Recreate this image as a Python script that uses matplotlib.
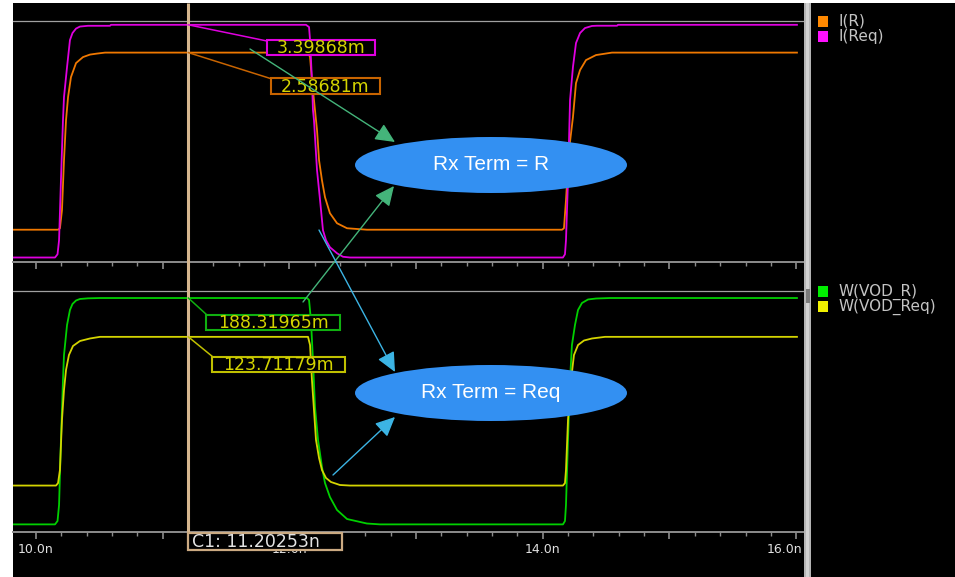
import matplotlib
matplotlib.use('Agg')
import matplotlib.pyplot as plt
from matplotlib.patches import Rectangle, Ellipse, FancyArrowPatch
from matplotlib.ticker import MultipleLocator, FixedLocator
from matplotlib.transforms import ScaledTranslation

plt.rcParams['font.family'] = ['DejaVu Sans']

# ---------------- data (time in ns, current in mA, voltage in mV) ----------------
CURSOR_T = 11.20253

t_IR = [9.818, 10.174, 10.189, 10.205, 10.221, 10.237, 10.253, 10.276, 10.316, 10.371, 10.426, 10.481, 10.545, 12.147,
        12.163, 12.178, 12.194, 12.218, 12.234, 12.257, 12.281, 12.320, 12.376, 12.455, 12.612,
        14.152, 14.167, 14.183, 14.207, 14.238, 14.262, 14.294, 14.341, 14.420, 14.546, 16.006]
v_IR = [-2.58681, -2.58681, -2.544, -2.018, -0.556, 0.614, 1.287, 1.871, 2.281, 2.456, 2.529, 2.558, 2.58681, 2.58681,
        2.456, 1.784, 1.199, 0.322, -0.556, -1.140, -1.637, -2.105, -2.398, -2.544, -2.58681,
        -2.58681, -2.544, -1.725, -0.263, 0.702, 1.696, 2.076, 2.368, 2.515, 2.58681, 2.58681]

t_IReq = [9.818, 10.150, 10.170, 10.182, 10.197, 10.213, 10.221, 10.245, 10.268, 10.288, 10.316, 10.347, 10.410, 10.584, 10.592, 12.131,
          12.155, 12.163, 12.178, 12.186, 12.194, 12.218, 12.242, 12.265, 12.289, 12.320, 12.376, 12.423, 12.478,
          14.159, 14.175, 14.183, 14.199, 14.215, 14.238, 14.262, 14.294, 14.333, 14.388, 14.428, 14.586, 14.594, 16.006]
v_IReq = [-3.39868, -3.39868, -3.304, -2.895, -1.140, 0.614, 1.287, 2.164, 2.953, 3.158, 3.289, 3.348, 3.370, 3.370, 3.39868, 3.39868,
          3.333, 2.953, 1.784, 0.906, 0.614, -0.848, -1.725, -2.602, -2.895, -3.099, -3.275, -3.377, -3.39868,
          -3.39868, -3.304, -2.895, -1.140, 1.199, 2.164, 2.865, 3.158, 3.304, 3.365, 3.372, 3.372, 3.39868, 3.39868]

t_VR = [9.818, 10.150, 10.170, 10.182, 10.197, 10.213, 10.221, 10.245, 10.268, 10.288, 10.316, 10.347, 10.410, 10.505, 12.139,
        12.155, 12.170, 12.186, 12.202, 12.226, 12.257, 12.281, 12.320, 12.376, 12.455, 12.612, 12.715,
        14.159, 14.175, 14.183, 14.199, 14.215, 14.230, 14.254, 14.278, 14.309, 14.357, 14.420, 14.530, 16.006]
v_VR = [-188.31965, -188.31965, -182.7, -156.1, -47.9, 51.9, 93.5, 143.4, 168.4, 178.4, 184.2, 186.7, 187.8, 188.31965, 188.31965,
        185.0, 151.7, 85.2, 7.0, -47.9, -92.8, -119.5, -142.8, -164.4, -179.4, -186.9, -188.31965,
        -188.31965, -182.7, -156.1, -47.9, 51.9, 110.1, 143.4, 168.4, 180.0, 185.9, 187.5, 188.31965, 188.31965]

t_VReq = [9.818, 10.158, 10.174, 10.189, 10.205, 10.221, 10.237, 10.260, 10.292, 10.347, 10.426, 10.505, 12.147,
          12.163, 12.178, 12.194, 12.210, 12.234, 12.257, 12.289, 12.328, 12.399, 12.478,
          14.159, 14.175, 14.183, 14.199, 14.223, 14.246, 14.278, 14.325, 14.388, 14.491, 16.006]
v_VReq = [-123.71179, -123.71179, -119.6, -97.8, -14.6, 35.3, 68.6, 93.5, 108.5, 116.8, 121.0, 123.71179, 123.71179,
          110.1, 52.0, 2.0, -47.9, -77.9, -97.8, -111.1, -117.8, -122.8, -123.71179,
          -123.71179, -119.6, -97.8, -14.6, 52.0, 93.5, 110.1, 117.6, 121.0, 123.71179, 123.71179]

marker_IR = 2.58681
marker_IReq = 3.39868
marker_VR = 188.31965
marker_VReq = 123.71179

x_major = [10, 11, 12, 13, 14, 15, 16]
x_labels = ['10.0n', '', '12.0n', '', '14.0n', '', '16.0n']
legend_top = ['I(R)', 'I(Req)']
legend_bot = ['W(VOD_R)', 'W(VOD_Req)']

# ---------------- styling ----------------
W, H = 955, 577
C_OR, C_MG, C_GR, C_YL = '#f07800', '#e000e0', '#00d000', '#d4d400'
GRAY = '#8c8c8c'

fig = plt.figure(figsize=(W / 100, H / 100), dpi=100, facecolor='white')
fig.add_artist(Rectangle((13 / W, 0), 1, (H - 3) / H, transform=fig.transFigure,
                         facecolor='black', edgecolor='none', zorder=-10))


def px_axes(x0, y0, x1, y1):
    return fig.add_axes([x0 / W, (H - y1) / H, (x1 - x0) / W, (y1 - y0) / H])


ax1 = px_axes(13, 21, 804, 262)
ax2 = px_axes(13, 291, 804, 532)
for ax in (ax1, ax2):
    ax.set_facecolor('black')
    ax.set_xlim(9.8185, 16.0616)
    for s in ('left', 'right'):
        ax.spines[s].set_visible(False)
    ax.spines['top'].set_color('#a0a0a0')
    ax.spines['top'].set_linewidth(0.9)
    ax.spines['bottom'].set_color(GRAY)
    ax.spines['bottom'].set_linewidth(1.4)
    ax.set_yticks([])
    ax.xaxis.set_major_locator(FixedLocator(x_major))
    ax.xaxis.set_minor_locator(MultipleLocator(0.2))
    ax.tick_params(axis='x', which='major', length=5, width=1.2, color=GRAY,
                   labelsize=9, labelcolor='#e0e0e0', pad=3)
    ax.tick_params(axis='x', which='minor', length=3, width=1.0, color=GRAY)

ax1.set_ylim(-3.53, 3.51)
ax2.set_ylim(-201.0, 200.0)
ax1.set_xticklabels([''] * len(x_major))
ax2.set_xticklabels(x_labels)
lbls = ax2.get_xticklabels()
lbls[-1].set_horizontalalignment('right')
lbls[-1].set_transform(lbls[-1].get_transform() + ScaledTranslation(6 / 100, 0, fig.dpi_scale_trans))

ax1.plot(t_IR, v_IR, color=C_OR, lw=1.3)
ax1.plot(t_IReq, v_IReq, color=C_MG, lw=1.3)
ax2.plot(t_VR, v_VR, color=C_GR, lw=1.3)
ax2.plot(t_VReq, v_VReq, color=C_YL, lw=1.3)

# ---------------- overlay in pixel coordinates ----------------
ov = fig.add_axes([0, 0, 1, 1], zorder=10)
ov.set_xlim(0, W)
ov.set_ylim(H, 0)
ov.axis('off')


def d2p(ax, t, v):
    x, y = ax.transData.transform((t, v))
    return x, H - y


# divider bar on the right
ov.add_patch(Rectangle((804, 3), 7, H - 3, facecolor='#b4b4b4', edgecolor='none', zorder=1))
ov.add_patch(Rectangle((806, 3), 2.5, H - 3, facecolor='#d2d2d2', edgecolor='none', zorder=1))
ov.add_patch(Rectangle((805.5, 289), 4, 14, facecolor='#7a7a7a', edgecolor='none', zorder=1))

# cursor
xc = d2p(ax1, CURSOR_T, 0)[0]
ov.plot([xc, xc], [3, 533], color='#d6b68e', lw=2.2, zorder=2, solid_capstyle='butt')
ov.add_patch(Rectangle((xc, 533), 154, 17, facecolor='black', edgecolor='#cbaa82', lw=1.6, zorder=6))
ov.text(xc + 4, 542, f'C1: {CURSOR_T:.5f}n', color='#e4e4e4', fontsize=12.5, ha='left', va='center', zorder=7)

# marker value boxes
markers = [
    (ax1, marker_IReq, C_MG, C_MG, (267, 40, 375, 55), (267, 41)),
    (ax1, marker_IR, '#c86400', '#c86400', (271, 78, 380, 94), (272, 79)),
    (ax2, marker_VR, '#10b010', '#10b010', (206, 315, 340, 330), (207, 315)),
    (ax2, marker_VReq, '#c0c000', '#c0c000', (212, 357, 345, 372), (213, 357)),
]
fmt = {marker_IReq: '3.39868m', marker_IR: '2.58681m', marker_VR: '188.31965m', marker_VReq: '123.71179m'}
for ax, val, lc, bc, (x0, y0, x1, y1), end in markers:
    sx, sy = d2p(ax, CURSOR_T, val)
    ov.plot([sx, end[0]], [sy, end[1]], color=lc, lw=1.1, zorder=3)
    ov.add_patch(Rectangle((x0, y0), x1 - x0, y1 - y0, facecolor='black', edgecolor=bc, lw=1.5, zorder=4))
    ov.text((x0 + x1) / 2, (y0 + y1) / 2 + 0.5, fmt[val], color='#d4d400', fontsize=12.5,
            ha='center', va='center', zorder=5)

# callout ellipses
BLUE = '#3390f2'
for cy, txt in ((165, 'Rx Term = R'), (393, 'Rx Term = Req')):
    ov.add_patch(Ellipse((491, cy), 272, 56, facecolor=BLUE, edgecolor='none', zorder=8))
    ov.text(491, cy, txt, color='white', fontsize=15, family=['Liberation Sans', 'DejaVu Sans'],
            ha='center', va='center', zorder=9)

# arrows
arrows = [
    ((250, 49), (395, 142), '#44b47a'),
    ((303, 302), (394, 186), '#44b47a'),
    ((319, 230), (395, 372), '#3cb4e4'),
    ((333, 475), (395, 417), '#3cb4e4'),
]
for a, b, c in arrows:
    ov.add_patch(FancyArrowPatch(a, b, arrowstyle='-|>,head_length=0.6,head_width=0.28', mutation_scale=20,
                                 color=c, lw=1.0, shrinkA=0, shrinkB=0, zorder=8))

# legends
for (y, col, name) in ((16, '#ff8800', legend_top[0]), (31, '#ff10ff', legend_top[1]),
                       (286, '#00ee00', legend_bot[0]), (301, '#f0f000', legend_bot[1])):
    ov.add_patch(Rectangle((818, y), 10, 11, facecolor=col, edgecolor='none', zorder=3))
    ov.text(838, y + 5.5, name, color='#c4c4c4', fontsize=11, ha='left', va='center', zorder=3)

fig.savefig('out.png', dpi=100, facecolor='white')
